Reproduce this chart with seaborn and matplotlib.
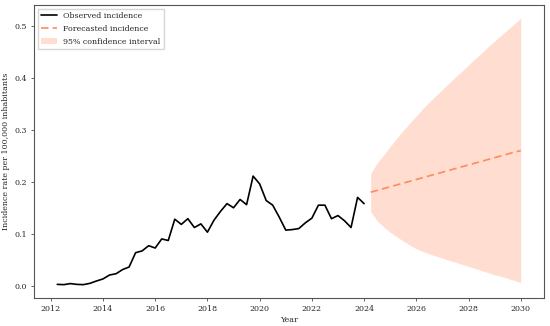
import numpy as np
import pandas as pd
import matplotlib
matplotlib.use("Agg")
import matplotlib.pyplot as plt
from matplotlib.ticker import MultipleLocator, FormatStrFormatter
import seaborn as sns

# Observed quarterly incidence (per 100,000 inhabitants)
obs_years = [2012.25, 2012.5, 2012.75, 2013.0, 2013.25, 2013.5, 2013.75, 2014.0,
             2014.25, 2014.5, 2014.75, 2015.0, 2015.25, 2015.5, 2015.75, 2016.0,
             2016.25, 2016.5, 2016.75, 2017.0, 2017.25, 2017.5, 2017.75, 2018.0,
             2018.25, 2018.5, 2018.75, 2019.0, 2019.25, 2019.5, 2019.75, 2020.0,
             2020.25, 2020.5, 2020.75, 2021.0, 2021.25, 2021.5, 2021.75, 2022.0,
             2022.25, 2022.5, 2022.75, 2023.0, 2023.25, 2023.5, 2023.75, 2024.0]
obs_rate = [0.0025, 0.002, 0.004, 0.0025, 0.002, 0.0045, 0.009, 0.013,
            0.0205, 0.023, 0.031, 0.036, 0.0635, 0.067, 0.077, 0.0725,
            0.090, 0.087, 0.128, 0.118, 0.129, 0.112, 0.119, 0.103,
            0.126, 0.143, 0.158, 0.150, 0.166, 0.156, 0.211, 0.196,
            0.164, 0.155, 0.132, 0.107, 0.108, 0.110, 0.121, 0.130,
            0.155, 0.155, 0.129, 0.135, 0.125, 0.112, 0.170, 0.158]

# Forecast with 95% confidence interval
fc_years = [2024.25, 2024.5, 2024.75, 2025.0, 2025.25, 2025.5, 2025.75, 2026.0,
            2026.25, 2026.5, 2026.75, 2027.0, 2027.25, 2027.5, 2027.75, 2028.0,
            2028.25, 2028.5, 2028.75, 2029.0, 2029.25, 2029.5, 2029.75, 2030.0]
fc_rate = [0.180, 0.1835, 0.187, 0.1905, 0.194, 0.1975, 0.201, 0.2045,
           0.208, 0.2115, 0.215, 0.2185, 0.222, 0.2255, 0.229, 0.2325,
           0.236, 0.2395, 0.243, 0.2465, 0.250, 0.2535, 0.257, 0.260]
fc_upper = [0.216, 0.236, 0.252, 0.268, 0.284, 0.299, 0.313, 0.327,
            0.341, 0.354, 0.366, 0.378, 0.390, 0.402, 0.413, 0.425,
            0.437, 0.448, 0.460, 0.471, 0.482, 0.493, 0.504, 0.515]
fc_lower = [0.143, 0.125, 0.113, 0.103, 0.094, 0.086, 0.078, 0.071,
            0.066, 0.061, 0.057, 0.053, 0.049, 0.045, 0.041, 0.037,
            0.033, 0.029, 0.025, 0.021, 0.018, 0.014, 0.010, 0.006]

obs = pd.DataFrame({"Year": obs_years, "Rate": obs_rate})
fc = pd.DataFrame({"Year": fc_years, "Rate": fc_rate,
                   "Lower": fc_lower, "Upper": fc_upper})

sns.set_style("ticks")
plt.rcParams["font.family"] = ["DejaVu Serif"]
fs = 5.7
plt.rcParams["font.size"] = fs

fig = plt.figure(figsize=(5.5, 3.26), dpi=100)
ax = fig.add_axes([0.062, 0.086, 0.927, 0.899])

sns.lineplot(data=obs, x="Year", y="Rate", ax=ax, color="black", lw=1.2,
             label="Observed incidence")
sns.lineplot(data=fc, x="Year", y="Rate", ax=ax, color="#ff8a5c", lw=1.2,
             dashes=False, label="Forecasted incidence")
ax.lines[-1].set_dashes((4.5, 2.5))
ax.fill_between(fc["Year"], fc["Lower"], fc["Upper"], color="#ffa07a",
                alpha=0.35, lw=0, label="95% confidence interval")

ax.xaxis.set_major_locator(MultipleLocator(2))
ax.xaxis.set_major_formatter(FormatStrFormatter("%d"))
ax.set_xlabel("Year", fontsize=fs, labelpad=2)
ax.set_ylabel("Incidence rate per 100,000 inhabitants", fontsize=fs, labelpad=3)
ax.tick_params(labelsize=fs, width=0.5, length=2.5, pad=2.5)
for s in ax.spines.values():
    s.set_linewidth(0.8)
    s.set_color("#555555")
    s.set_visible(True)

ax.legend(loc="upper left", fontsize=fs, frameon=True, fancybox=False,
          edgecolor="#cccccc", borderaxespad=0.5, handlelength=2.0,
          labelspacing=0.6)

fig.savefig("out.png", dpi=100)
